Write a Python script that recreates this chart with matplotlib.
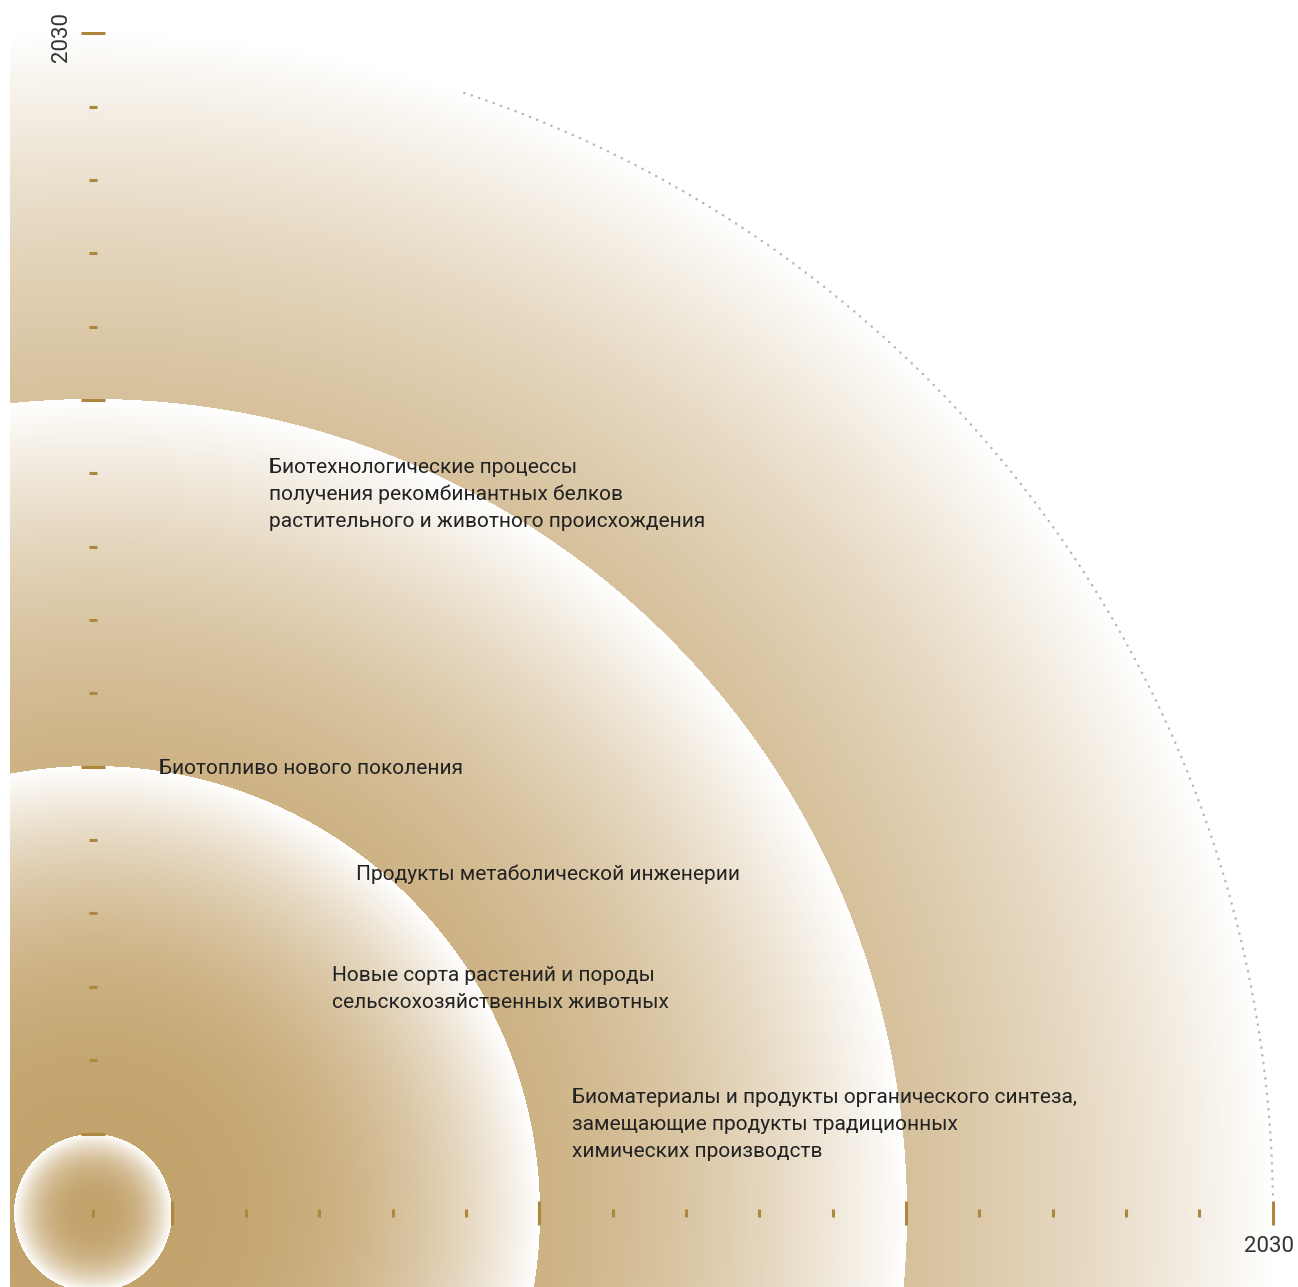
import numpy as np
import matplotlib.pyplot as plt
from matplotlib.colors import to_rgb

# ring radii (chart units, centre of the quarter-disc at 0,0)
ring_radii = [79, 447, 814, 1180]
# tick positions along each axis
major_ticks = [79, 446, 813, 1180]
minor_ticks = [0, 153, 226, 300, 373, 520, 593, 666, 740, 886, 960, 1033, 1106]
axis_label = "2030"

labels = [
    ["Биотехнологические процессы", "получения рекомбинантных белков",
     "растительного и животного происхождения"],
    ["Биотопливо нового поколения"],
    ["Продукты метаболической инженерии"],
    ["Новые сорта растений и породы", "сельскохозяйственных животных"],
    ["Биоматериалы и продукты органического синтеза,",
     "замещающие продукты традиционных", "химических производств"],
]
# label anchor points (left, first baseline), chart units
label_pos = [(176, 740), (66, 439), (263, 333), (239, 232), (479, 110)]
line_step = 27

W, H = 1298, 1287
cx, cy = 93, 1213  # centre in pixels

tan = np.array(to_rgb("#c3a36c"))
white = np.ones(3)
tick_col = "#ad873d"

fig = plt.figure(figsize=(W / 100, H / 100), dpi=100)
ax = fig.add_axes([0, 0, 1, 1])
ax.set_xlim(-cx, W - cx)
ax.set_ylim(-(H - cy), cy)
ax.axis("off")

# background: stacked radial gradients, biggest first
xs = np.arange(W) - cx + 0.5
ys = cy - np.arange(H) - 0.5
X, Y = np.meshgrid(xs, ys)
R = np.hypot(X, Y)
img = np.ones((H, W, 3))
for rad in sorted(ring_radii, reverse=True):
    inside = R < rad
    t = (R[inside] / rad) ** 3
    img[inside] = tan * (1 - t[:, None]) + white * t[:, None]
img[:, :10] = 1.0
ax.imshow(img, extent=(-cx, W - cx, -(H - cy), cy), origin="upper",
          interpolation="bilinear", zorder=0)

# dotted outer arc
ang = np.radians(np.linspace(0.9, 71.8, 400))
ax.plot(ring_radii[-1] * np.cos(ang), ring_radii[-1] * np.sin(ang),
        color="#b8b8b8", lw=1.8, ls=(0, (0.1, 3.0)), dash_capstyle="round", zorder=2)

# ticks on both axes
for v in minor_ticks:
    ax.plot([v, v], [-4, 4], color=tick_col, lw=2.2, solid_capstyle="butt", zorder=3)
    if v > 0:
        ax.plot([-4, 4], [v, v], color=tick_col, lw=2.2, solid_capstyle="butt", zorder=3)
for v in major_ticks:
    ax.plot([v, v], [-12, 12], color=tick_col, lw=2.2, solid_capstyle="butt", zorder=3)
    ax.plot([-12, 12], [v, v], color=tick_col, lw=2.2, solid_capstyle="butt", zorder=3)

ax.text(-32, 1176, axis_label, rotation=90, ha="center", va="center",
        fontsize=16, color="#333333", family="Roboto")
ax.text(1176, -34, axis_label, ha="center", va="center",
        fontsize=16, color="#333333", family="Roboto")

for lines, (x, y) in zip(labels, label_pos):
    for i, line in enumerate(lines):
        ax.text(x, y - i * line_step, line, ha="left", va="baseline",
                fontsize=15, color="#222222", family="Roboto")

fig.savefig("out.png", dpi=100)
